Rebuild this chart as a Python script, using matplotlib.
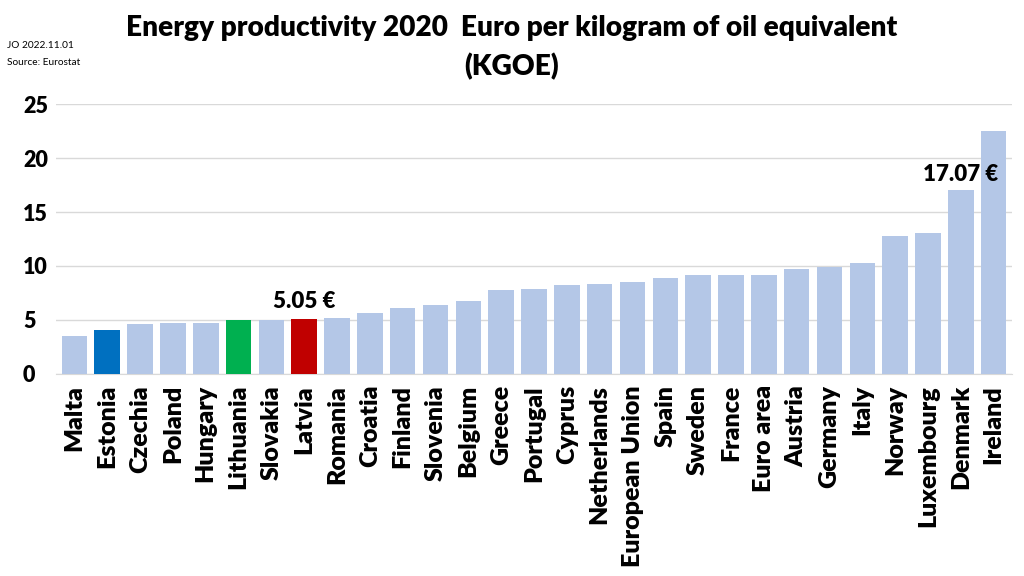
import matplotlib
matplotlib.use("Agg")
import matplotlib.pyplot as plt

countries = ["Malta", "Estonia", "Czechia", "Poland", "Hungary", "Lithuania", "Slovakia",
             "Latvia", "Romania", "Croatia", "Finland", "Slovenia", "Belgium", "Greece",
             "Portugal", "Cyprus", "Netherlands", "European Union", "Spain", "Sweden",
             "France", "Euro area", "Austria", "Germany", "Italy", "Norway", "Luxembourg",
             "Denmark", "Ireland"]
values = [3.49, 4.11, 4.58, 4.67, 4.67, 4.98, 4.99, 5.05, 5.20, 5.66, 6.13, 6.37, 6.71, 7.80,
          7.89, 8.26, 8.29, 8.54, 8.91, 9.19, 9.19, 9.19, 9.71, 9.93, 10.24, 12.78, 13.03,
          17.07, 22.56]
highlight_colors = {"Estonia": "#0070C0", "Lithuania": "#00B050", "Latvia": "#C00000"}
base_color = "#B4C7E7"
annotations = {"Latvia": "5.05 €", "Denmark": "17.07 €"}
yticks = [0, 5, 10, 15, 20, 25]

plt.rcParams['font.family'] = ['Lato', 'DejaVu Sans']
W = 800  # heavy weight, close to Calibri Bold

fig = plt.figure(figsize=(10.24, 5.76), dpi=100)
ax = fig.add_axes([0.055, 0.351, 0.933, 0.468])

colors = [highlight_colors.get(c, base_color) for c in countries]
x = list(range(len(countries)))
ax.bar(x, values, width=0.78, color=colors, zorder=3)

ax.set_ylim(0, 25)
ax.set_xlim(-0.55, len(countries) - 0.45)
ax.set_yticks(yticks)
ax.set_yticklabels([str(t) for t in yticks], fontsize=15.5, fontweight=W)
ax.set_xticks(x)
ax.set_xticklabels(countries, rotation=90, fontsize=18, fontweight=W)
ax.tick_params(axis='both', length=0)
ax.tick_params(axis='y', pad=24)
ax.tick_params(axis='x', pad=8)
for lbl in ax.get_yticklabels():
    lbl.set_horizontalalignment('left')

ax.grid(axis='y', color='#D9D9D9', linewidth=1, zorder=0)
for s in ['top', 'left', 'right']:
    ax.spines[s].set_visible(False)
ax.spines['bottom'].set_color('#D9D9D9')

offsets = {"Latvia": 1.65, "Denmark": 1.4}
for name, txt in annotations.items():
    i = countries.index(name)
    ax.text(i, values[i] + offsets[name], txt, ha='center', va='center',
            fontsize=16, fontweight=W, zorder=4)

fig.text(0.5, 0.952, "Energy productivity 2020  Euro per kilogram of oil equivalent",
         ha='center', va='center', fontsize=20.2, fontweight=W)
fig.text(0.5, 0.885, "(KGOE)", ha='center', va='center', fontsize=20.2, fontweight=W)
fig.text(0.007, 0.921, "JO 2022.11.01", ha='left', va='center', fontsize=7.3)
fig.text(0.007, 0.892, "Source: Eurostat", ha='left', va='center', fontsize=7.3)

fig.savefig("out.png", dpi=100)
